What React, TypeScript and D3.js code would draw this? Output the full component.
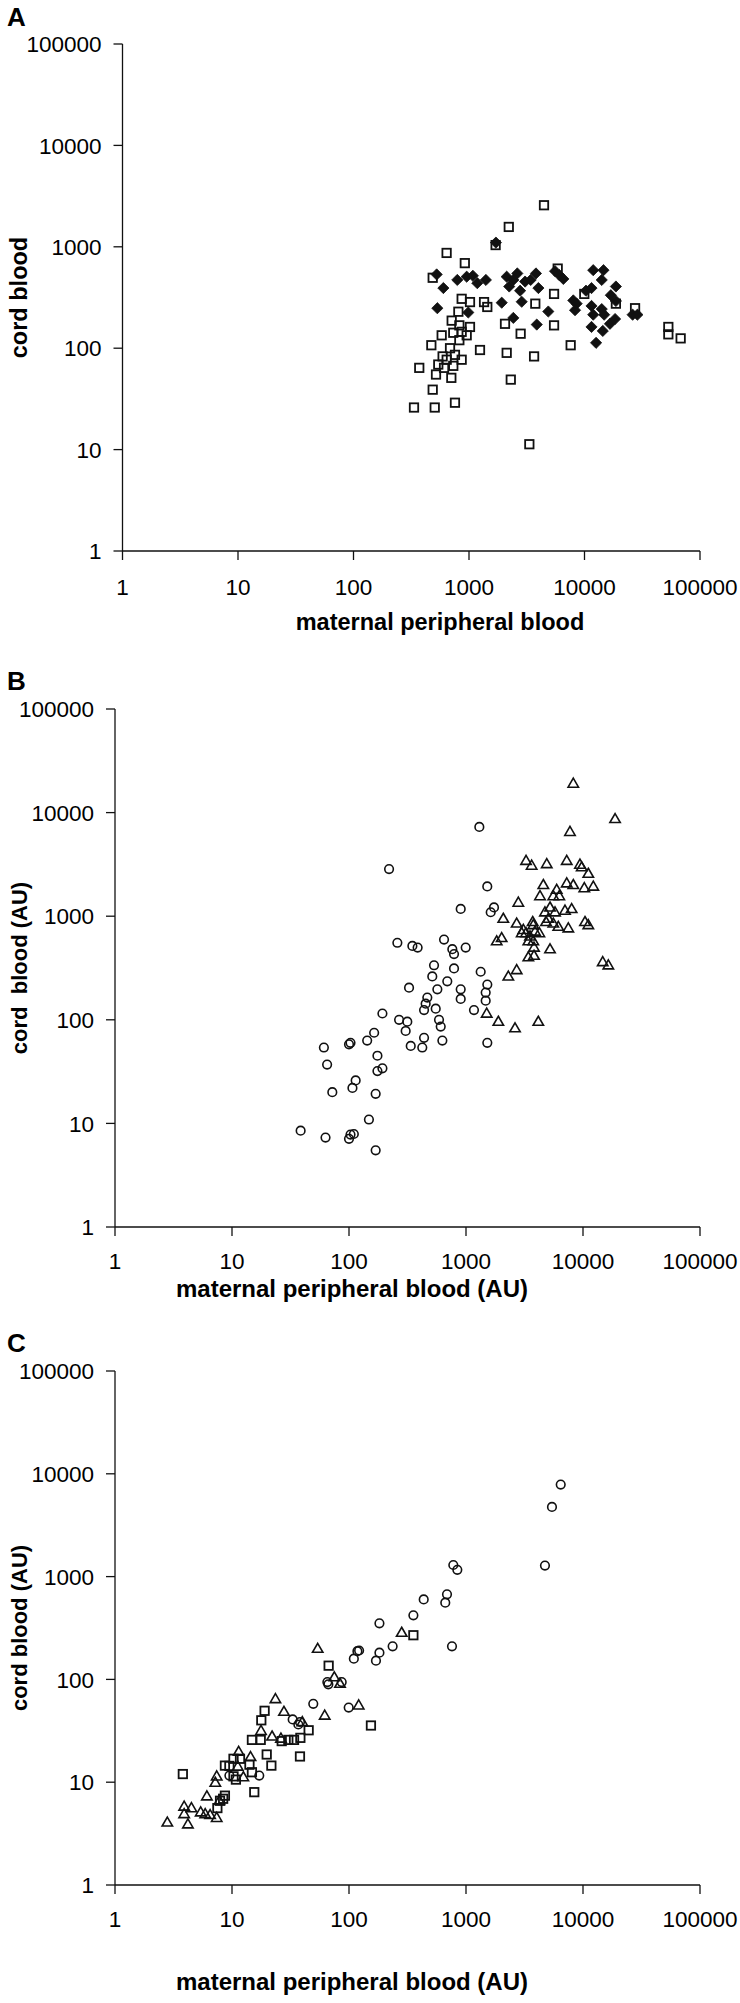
import React from "react";
import * as d3 from "d3";

type P = [number, number];

const tickValues = [1, 10, 100, 1000, 10000, 100000];
const tickLabels = ["1", "10", "100", "1000", "10000", "100000"];

const aSquares: P[] = [
  [4460, 2570], [2210, 1570], [1700, 1040], [640, 870], [920, 690], [485, 495], [5860, 610], [5450, 343],
  [9960, 343], [864, 307], [1020, 285], [1350, 285], [1440, 255], [3750, 275], [18700, 275], [27400, 248],
  [809, 229], [708, 187], [825, 168], [1020, 162], [2050, 174], [5450, 168], [580, 134], [731, 142],
  [864, 145], [955, 134], [825, 120], [2800, 139], [472, 107], [685, 100], [1245, 96], [2120, 90],
  [7590, 107], [3660, 83], [591, 83], [756, 86], [641, 77], [864, 77], [542, 69], [731, 67], [371, 64],
  [608, 64], [518, 55], [703, 51], [2300, 49], [485, 39], [334, 26], [505, 26], [756, 29], [3330, 11.3],
  [53200, 162], [53200, 137], [68000, 125],
];

const aDiamonds: P[] = [
  [1710, 1100], [525, 534], [600, 392], [792, 471], [955, 507], [1080, 518], [1180, 438], [1400, 471],
  [2120, 507], [2620, 546], [2420, 471], [2230, 406], [2770, 369], [3060, 454], [3420, 471], [3800, 546],
  [3990, 392], [5560, 575], [6050, 526], [6560, 482], [11900, 588], [14600, 588], [14100, 471], [18700, 406],
  [11500, 392], [10300, 369], [16900, 333], [18700, 292], [532, 248], [986, 225], [1920, 281], [2860, 287],
  [4860, 230], [8000, 296], [8550, 275], [8280, 237], [11500, 261], [14100, 243], [14800, 214], [11900, 214],
  [26100, 214], [28700, 214], [2420, 199], [3860, 171], [11500, 162], [14400, 148], [16600, 174], [18400, 194],
  [12600, 113],
];

const bCircles: P[] = [
  [1520, 1940], [901, 1175], [1735, 1216], [1626, 1092], [259, 554], [348, 516], [386, 498], [649, 595],
  [764, 480], [790, 431], [994, 498], [533, 336], [790, 313], [1335, 291], [515, 262], [692, 235], [326, 204],
  [569, 197], [901, 197], [1521, 219], [1473, 183], [901, 159], [1473, 153], [467, 164], [452, 143], [438, 124],
  [551, 128], [1170, 124], [193, 115], [268, 100], [315, 96], [588, 100], [608, 86], [305, 78], [164, 75],
  [143, 63], [103, 60], [100, 58], [438, 67], [628, 63], [1521, 60], [337, 56], [423, 54], [61, 54], [175, 45],
  [65, 37], [193, 34], [175, 32], [114, 26], [107, 22], [72, 20], [169, 19.3], [148, 10.9], [38.6, 8.5],
  [63, 7.3], [100, 7.1], [110, 7.9], [103, 7.8], [169, 5.5], [220, 2850], [1300, 7280],
];

const bTriangles: P[] = [
  [8260, 19060], [18800, 8680], [7740, 6520], [3260, 3430], [3640, 3080], [4900, 3190], [7260, 3430],
  [9420, 3150], [9750, 2970], [11100, 2575], [4580, 2006], [5960, 1803], [7260, 2080], [8260, 2006],
  [10260, 1867], [12250, 1936], [4290, 1563], [5575, 1563], [6270, 1563], [2800, 1353], [5225, 1216],
  [4730, 1092], [5765, 1092], [7015, 1133], [8000, 1175], [5055, 947], [2083, 947], [2711, 851], [3715, 881],
  [3760, 821], [4830, 881], [5575, 851], [6150, 792], [7490, 765], [10400, 881], [11100, 821], [3090, 738],
  [3260, 687], [2993, 687], [3525, 639], [3890, 711], [4235, 687], [3410, 574], [3760, 574], [1830, 574],
  [2018, 617], [3813, 498], [5225, 480], [3410, 402], [3813, 416], [14740, 361], [16460, 336], [2711, 302],
  [2300, 262], [1503, 115], [1890, 96], [2624, 83], [4150, 96],
];

const cCircles: P[] = [
  [6450, 7850], [5430, 4760], [4730, 1280], [779, 1297], [843, 1165], [688, 672], [665, 558], [435, 600],
  [355, 420], [759, 210], [182, 351], [118, 188], [122, 191], [110, 159], [182, 182], [170, 152], [236, 210],
  [49.5, 57.9], [99.4, 53.2], [65.3, 94.2], [66.6, 89.6], [86.6, 94.2], [33, 40.8], [36.9, 36.4],
  [38.1, 38.5], [9.5, 11.6], [17.1, 11.6],
];

const cTriangles: P[] = [
  [282, 285], [54, 199], [74.9, 105], [83.8, 90.8], [121, 55.9], [62, 44.5], [23.5, 64.5], [27.8, 48.5],
  [39.9, 38.5], [17.7, 31.6], [22, 27.9], [26.2, 26.6], [11.4, 19.8], [14.4, 17.6], [11.2, 14.2],
  [12.5, 11.2], [7.4, 11.4], [7.2, 9.9], [6.1, 7.3], [7.8, 6.6], [3.9, 5.8], [4.5, 5.6], [3.9, 4.9],
  [5.4, 5.1], [5.9, 4.9], [6.5, 4.8], [7.4, 4.5], [2.8, 4.06], [4.2, 3.9],
];

const cSquares: P[] = [
  [355, 269], [67, 136], [154, 35.6], [19, 49.5], [17.8, 40], [45.2, 32], [14.8, 25.8], [17.6, 25.8],
  [26.6, 25.1], [30.3, 25.8], [33.9, 25.8], [38.4, 27], [38.1, 17.8], [19.8, 18.6], [21.7, 14.5],
  [10.3, 16.9], [11.7, 16.9], [14.1, 14.8], [8.7, 14.5], [9.5, 14.4], [10.3, 11.4], [10.8, 10.6],
  [14.8, 12.5], [3.8, 12], [15.5, 8], [8.7, 7.4], [8.4, 6.9], [7.9, 6.6], [7.5, 5.6],
];

type Series = { data: P[]; shape: "square" | "diamond" | "circle" | "triangle" };

type PanelSpec = {
  letter: string;
  letterY: number;
  left: number;
  right: number;
  top: number;
  bottom: number;
  xLabelDy: number;
  xTitle: string;
  yTitle: string;
  xTitleX: number;
  xTitleY: number;
  xTitleSize: number;
  yTitleSize: number;
  series: Series[];
};

const FONT = "'Liberation Sans', Arial, Helvetica, sans-serif";
const INK = "#111";

function Marker({ shape, x, y }: { shape: Series["shape"]; x: number; y: number }) {
  if (shape === "square") {
    const s = 8.4;
    return <rect x={x - s / 2} y={y - s / 2} width={s} height={s} fill="none" stroke={INK} strokeWidth={1.8} />;
  }
  if (shape === "diamond") {
    const s = 5.6;
    return <path d={`M${x},${y - s}L${x + s},${y}L${x},${y + s}L${x - s},${y}Z`} fill={INK} stroke={INK} strokeWidth={0.8} />;
  }
  if (shape === "circle") {
    return <circle cx={x} cy={y} r={4.3} fill="none" stroke={INK} strokeWidth={1.6} />;
  }
  const w = 5.2;
  const h = 9;
  return (
    <path
      d={`M${x},${y - h * 0.6}L${x + w},${y + h * 0.4}L${x - w},${y + h * 0.4}Z`}
      fill="none"
      stroke={INK}
      strokeWidth={1.6}
    />
  );
}

function Panel({ spec }: { spec: PanelSpec }) {
  const xs = d3.scaleLog().domain([1, 100000]).range([spec.left, spec.right]);
  const ys = d3.scaleLog().domain([1, 100000]).range([spec.bottom, spec.top]);
  const midY = (spec.top + spec.bottom) / 2;
  return (
    <g>
      <text x={7} y={spec.letterY} fontFamily={FONT} fontWeight="bold" fontSize={26} fill="#000">
        {spec.letter}
      </text>
      <line x1={spec.left} x2={spec.left} y1={spec.top} y2={spec.bottom} stroke={INK} strokeWidth={1.3} />
      <line x1={spec.left} x2={spec.right} y1={spec.bottom} y2={spec.bottom} stroke={INK} strokeWidth={1.3} />
      {tickValues.map((v, i) => (
        <g key={"y" + i}>
          <line x1={spec.left - 9} x2={spec.left} y1={ys(v)} y2={ys(v)} stroke={INK} strokeWidth={1.3} />
          <text
            x={spec.left - 21}
            y={ys(v)}
            dy="0.36em"
            textAnchor="end"
            fontFamily={FONT}
            fontSize={22.5}
            fill="#000"
          >
            {tickLabels[i]}
          </text>
        </g>
      ))}
      {tickValues.map((v, i) => (
        <g key={"x" + i}>
          <line x1={xs(v)} x2={xs(v)} y1={spec.bottom} y2={spec.bottom + 9} stroke={INK} strokeWidth={1.3} />
          <text
            x={xs(v)}
            y={spec.bottom + spec.xLabelDy}
            textAnchor="middle"
            fontFamily={FONT}
            fontSize={22.5}
            fill="#000"
          >
            {tickLabels[i]}
          </text>
        </g>
      ))}
      <text
        x={spec.xTitleX}
        y={spec.xTitleY}
        textAnchor="middle"
        fontFamily={FONT}
        fontWeight="bold"
        fontSize={spec.xTitleSize}
        fill="#000"
        style={{ whiteSpace: "pre" }}
      >
        {spec.xTitle}
      </text>
      <text
        transform={`translate(27,${midY}) rotate(-90)`}
        textAnchor="middle"
        fontFamily={FONT}
        fontWeight="bold"
        fontSize={spec.yTitleSize}
        fill="#000"
        style={{ whiteSpace: "pre" }}
      >
        {spec.yTitle}
      </text>
      {spec.series.map((s, si) => (
        <g key={si}>
          {s.data.map((d, i) => (
            <Marker key={i} shape={s.shape} x={xs(d[0])} y={ys(d[1])} />
          ))}
        </g>
      ))}
    </g>
  );
}

const panels: PanelSpec[] = [
  {
    letter: "A",
    letterY: 26,
    left: 122.5,
    right: 700,
    top: 44,
    bottom: 551,
    xLabelDy: 44,
    xTitle: "maternal peripheral blood",
    yTitle: "cord blood",
    xTitleX: 440,
    xTitleY: 630,
    xTitleSize: 23.5,
    yTitleSize: 23.5,
    series: [
      { data: aSquares, shape: "square" },
      { data: aDiamonds, shape: "diamond" },
    ],
  },
  {
    letter: "B",
    letterY: 690,
    left: 115,
    right: 700,
    top: 709,
    bottom: 1227,
    xLabelDy: 42,
    xTitle: "maternal peripheral blood (AU)",
    yTitle: "cord  blood (AU)",
    xTitleX: 352,
    xTitleY: 1297,
    xTitleSize: 24,
    yTitleSize: 22,
    series: [
      { data: bCircles, shape: "circle" },
      { data: bTriangles, shape: "triangle" },
    ],
  },
  {
    letter: "C",
    letterY: 1352,
    left: 115,
    right: 700,
    top: 1371,
    bottom: 1885,
    xLabelDy: 42,
    xTitle: "maternal peripheral blood (AU)",
    yTitle: "cord blood (AU)",
    xTitleX: 352,
    xTitleY: 1990,
    xTitleSize: 24,
    yTitleSize: 22,
    series: [
      { data: cSquares, shape: "square" },
      { data: cTriangles, shape: "triangle" },
      { data: cCircles, shape: "circle" },
    ],
  },
];

export default function App() {
  return (
    <svg
      width={740}
      height={2003}
      viewBox="0 0 740 2003"
      style={{ position: "absolute", left: 0, top: 0, display: "block", background: "#fff" }}
    >
      <rect x={0} y={0} width={740} height={2003} fill="#fff" />
      {panels.map((p) => (
        <Panel key={p.letter} spec={p} />
      ))}
    </svg>
  );
}
